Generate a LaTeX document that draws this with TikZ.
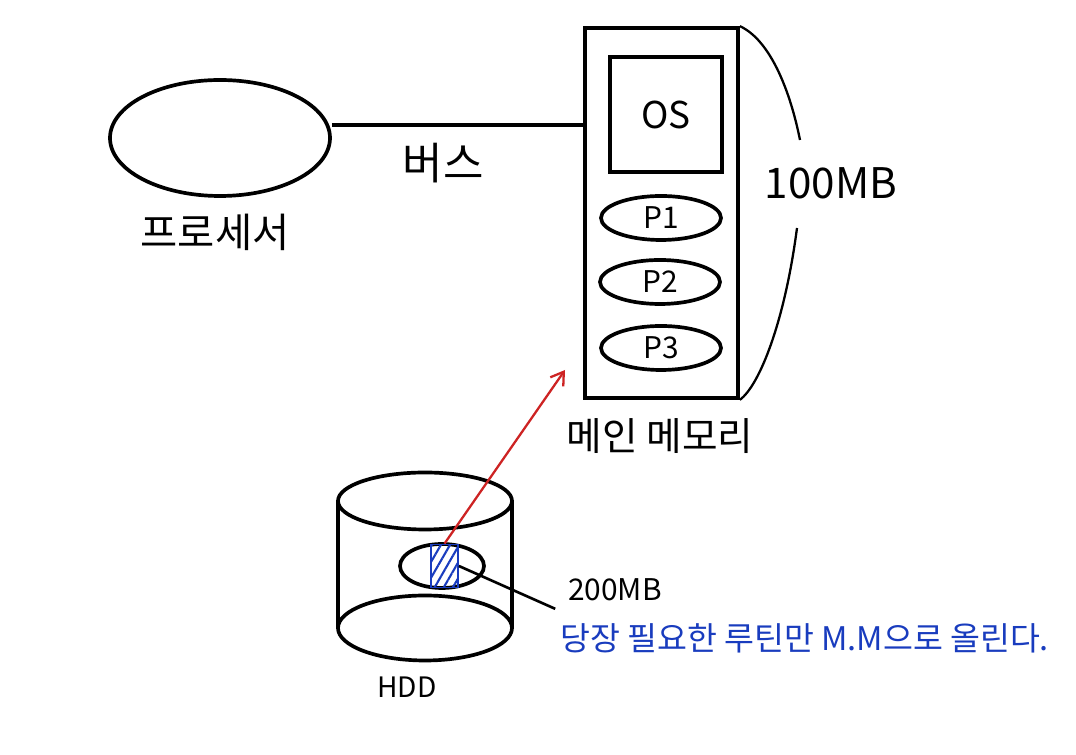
\documentclass[tikz,border=0pt]{standalone}
\usepackage{fontspec}
\setmainfont{Noto Sans CJK KR}
\usepackage{tikz}
\usetikzlibrary{shapes.geometric,patterns.meta,arrows.meta}
\definecolor{penred}{RGB}{205,35,35}
\definecolor{penblue}{RGB}{25,60,190}

\begin{document}
\begin{tikzpicture}[line width=2.1pt, >={Straight Barb[length=7pt,width=9pt]},
  blob/.style={draw, ellipse, inner sep=0pt},
  lbl/.style={font=\fontsize{21}{23}\selectfont}]
  \useasboundingbox (0,0) rectangle (21.52,15.1);
  % processor and bus
  \node[blob, minimum width=4.4cm, minimum height=2.32cm] (proc) at (4.40,12.34) {};
  \node[font=\fontsize{23}{25}\selectfont] (procl) at (4.30,10.46) {프로세서};
  \node[draw, minimum width=3.06cm, minimum height=7.4cm] (mem) at (13.23,10.84) {};
  \draw ([yshift=0.26cm]proc.east) -- ([yshift=0.26cm]proc.east -| mem.west);
  \node[font=\fontsize{25}{27}\selectfont] (busl) at (8.86,11.84) {버스};
  % main memory
  \node[draw, minimum width=2.24cm, minimum height=2.3cm, lbl] (os) at (13.32,12.81) {OS};
  \node[blob, minimum width=2.4cm, minimum height=0.88cm, font=\fontsize{17}{19}\selectfont] (p1) at (13.22,10.74) {P1};
  \node[blob, minimum width=2.4cm, minimum height=0.88cm, font=\fontsize{17}{19}\selectfont] (p2) at (13.20,9.46) {P2};
  \node[blob, minimum width=2.4cm, minimum height=0.88cm, font=\fontsize{17}{19}\selectfont] (p3) at (13.22,8.14) {P3};
  \node[font=\fontsize{22}{24}\selectfont] (meml) at (13.20,6.38) {메인 메모리};
  \node[font=\fontsize{24}{26}\selectfont] (size) at (16.62,11.44) {100MB};
  \coordinate (braceA) at (16.00,12.30);
  \coordinate (braceB) at (15.94,10.54);
  \draw[line width=1.3pt] (mem.north east) .. controls (15.4,14.3) and (15.8,13.3) .. (braceA);
  \draw[line width=1.3pt] (braceB) .. controls (15.7,8.7) and (15.2,7.4) .. (mem.south east);
  % hdd
  \draw (6.76,5.08) -- (6.76,2.54);
  \draw (10.24,5.08) -- (10.24,2.54);
  \draw (8.5,5.08) ellipse (1.74 and 0.57);
  \draw (8.5,2.54) ellipse (1.74 and 0.65);
  \node[blob, minimum width=1.68cm, minimum height=0.88cm] (disk) at (8.84,3.78) {};
  \node[pattern={Lines[angle=60,distance=4.5pt,line width=1.2pt]}, pattern color=penblue,
    draw=penblue, line width=1pt, minimum width=0.54cm, minimum height=0.86cm,
    inner sep=0pt] (hatch) at (8.89,3.78) {};
  \node[font=\fontsize{16}{18}\selectfont] (hddl) at (8.14,1.36) {HDD};
  \node[font=\fontsize{17}{19}\selectfont] (mb200) at (12.30,3.30) {200MB};
  \node[font=\fontsize{18.5}{20}\selectfont, text=penblue, anchor=west] (note) at (11.05,2.34) {당장 필요한 루틴만 M.M으로 올린다.};
  \draw[line width=1.5pt] (hatch.east) -- ([xshift=-3pt]mb200.south west);
  \coordinate (memTip) at (11.30,7.70);
  \draw[penred, line width=1.3pt, ->] (hatch.north) -- (memTip);
\end{tikzpicture}
\end{document}
